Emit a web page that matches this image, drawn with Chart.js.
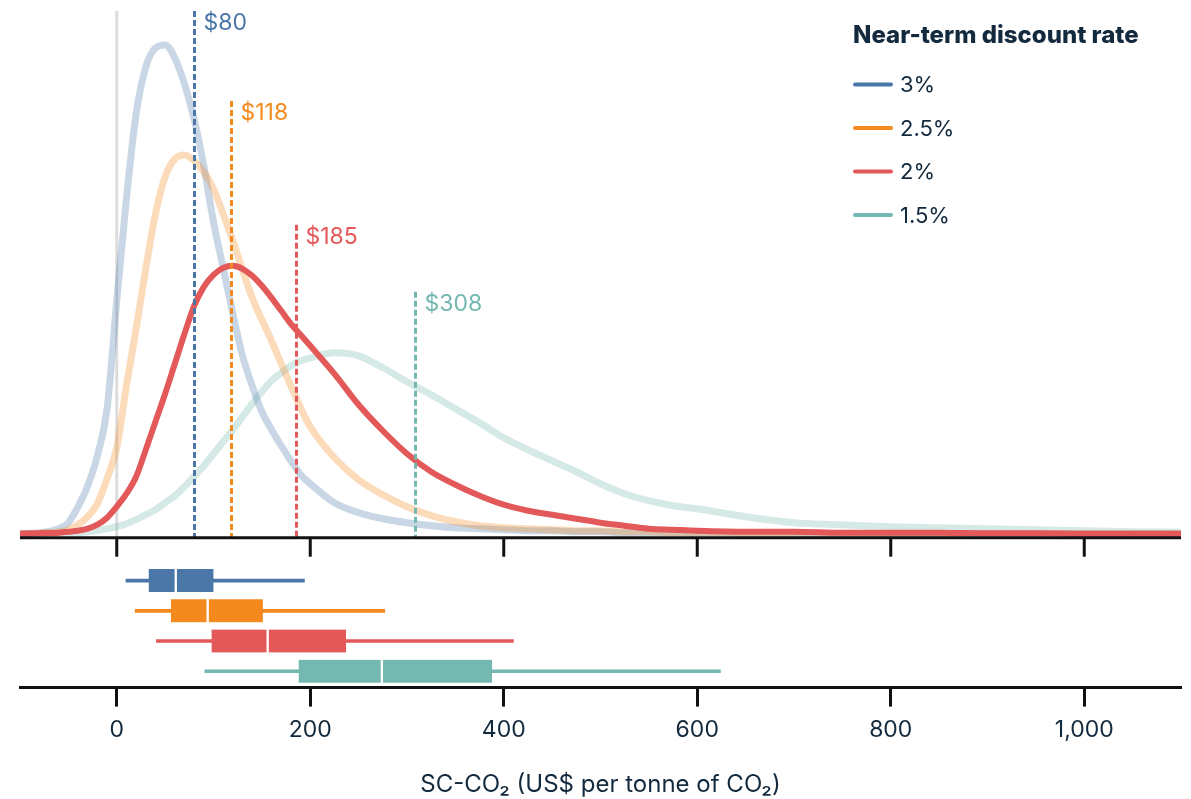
<!DOCTYPE html>
<html>
<head>
<meta charset="utf-8">
<script src="https://cdn.jsdelivr.net/npm/chart.js@4.4.1/dist/chart.umd.min.js"></script>
<style>
  html, body { margin: 0; padding: 0; background: #ffffff; }
  #wrap { width: 1191px; height: 799px; position: relative; }
</style>
</head>
<body>
<div id="wrap"><canvas id="c" width="1191" height="799"></canvas></div>
<script>
// SC-CO2 distributions by near-term discount rate (relative density on a shared x grid)
const X = [-100,-80,-60,-50,-40,-30,-20,-10,
  0,10,20,30,40,50,60,70,80,90,100,110,120,130,140,150,160,170,180,190,200,
  225,250,275,300,325,350,375,400,425,450,475,500,525,550,575,600,
  650,700,750,800,850,900,950,1000,1050,1100];

const dens3 = [0,1,5,11,27,48,78,125,
  233,335,420,467,486,489,476,450,415,368,312,266,220,178,148,122,104,88,73,59,50,
  31,21,15,11,8,6,5,4,3,3,2,2,1,1,1,1,
  0.5,0,0,0,0,0,0,0,0,0];

const dens25 = [0,0.5,2,4,9,17,30,55,
  86,148,205,265,320,357,375,379,373,362,345,320,293,264,236,214,193,170,148,126,107,
  76,54,39,27,18,12,8,6,5,4,3,3,2,2,1,1,
  1,0.5,0,0,0,0,0,0,0,0];

const dens2 = [0,0.5,1,2,3,5,9,16,
  27,40,57,84,112,140,170,200,228,247,259,266,268,265,258,248,236,223,210,199,188,
  160,129,103,80,62,49,38,29,23,19,15,11,8,5,4,3,
  2,2,1,1,1,0.5,0.5,0,0,0];

const dens15 = [0,0.3,0.5,1,1,2,3,5,
  7,10,14,19,24,31,38,47,57,68,80,92,104,117,130,142,153,161,168,173,176,
  181,178,166,152,139,125,111,96,84,73,62,50,40,33,28,25,
  17,11,9,7,6,5,4,3,2,1.5];

// Series names and means (US$ per tonne)
const rates = ['3%', '2.5%', '2%', '1.5%'];
const means = [80, 118, 185, 308];

// Box-plot summaries per rate
const boxMin = [9.5, 19, 41, 91];
const boxQ1  = [33, 56, 98, 188];
const boxMed = [61, 94, 156, 274];
const boxQ3  = [100, 151, 237, 388];
const boxMax = [194, 277, 410, 624];

const xTicks = [0, 200, 400, 600, 800, 1000];

// ---- styling ----
const FONT = 'Inter, "Noto Sans", Roboto, sans-serif';
const INK = '#13293d';
const solid = ['#4a77a8', '#f4891e', '#e35858', '#74b8b1'];
const pale  = ['rgba(74,119,168,0.30)', 'rgba(244,137,30,0.30)', '#e35858', 'rgba(116,184,177,0.30)'];
const curveWidth = [7, 7, 6, 7];
const curveOrder = [2, 1, 0, 3];
// height (in density units) where each mean marker line starts
const markerTop = [523, 433, 309, 242];

const curves = [dens3, dens25, dens2, dens15];

const lineSets = curves.map((arr, i) => ({
  type: 'line',
  label: rates[i],
  data: X.map((x, k) => ({ x: x, y: arr[k] })),
  borderColor: pale[i],
  borderWidth: curveWidth[i],
  pointRadius: 0,
  fill: false,
  cubicInterpolationMode: 'monotone',
  borderCapStyle: 'round',
  borderJoinStyle: 'round',
  order: curveOrder[i],
  xAxisID: 'x',
  yAxisID: 'y'
}));

const rows = rates.map((_, i) => i + 1);

const whiskerSet = {
  type: 'bar', indexAxis: 'y', xAxisID: 'x', yAxisID: 'yb',
  data: rows.map((r, i) => ({ y: r, x: [boxMin[i], boxMax[i]] })),
  backgroundColor: solid, barThickness: 3, grouped: false, order: 12,
  borderSkipped: false
};
const lowerBoxSet = {
  type: 'bar', indexAxis: 'y', xAxisID: 'x', yAxisID: 'yb',
  data: rows.map((r, i) => ({ y: r, x: [boxQ1[i], boxMed[i]] })),
  backgroundColor: solid, barThickness: 23, grouped: false, order: 11,
  borderColor: 'rgba(255,255,255,0.95)', borderWidth: { right: 1.5, left: 0, top: 0, bottom: 0 },
  borderSkipped: false
};
const upperBoxSet = {
  type: 'bar', indexAxis: 'y', xAxisID: 'x', yAxisID: 'yb',
  data: rows.map((r, i) => ({ y: r, x: [boxMed[i], boxQ3[i]] })),
  backgroundColor: solid, barThickness: 23, grouped: false, order: 10,
  borderColor: 'rgba(255,255,255,0.95)', borderWidth: { left: 1.5, right: 0, top: 0, bottom: 0 },
  borderSkipped: false
};

// Draws the zero reference line, mean markers, the upper axis and the legend
const overlays = {
  id: 'overlays',
  beforeDatasetsDraw(chart) {
    const { ctx, scales: { x, y } } = chart;
    ctx.save();
    ctx.strokeStyle = '#dcdcdc';
    ctx.lineWidth = 3;
    ctx.beginPath();
    ctx.moveTo(x.getPixelForValue(0), y.getPixelForValue(523));
    ctx.lineTo(x.getPixelForValue(0), y.getPixelForValue(0) + 4);
    ctx.stroke();
    ctx.restore();
  },
  afterDatasetsDraw(chart) {
    const { ctx, chartArea, scales: { x, y } } = chart;
    const base = y.getPixelForValue(0) + 4;
    ctx.save();

    // mean markers
    means.forEach((m, i) => {
      const px = Math.round(x.getPixelForValue(m)) + 0.5;
      const top = y.getPixelForValue(markerTop[i]);
      ctx.setLineDash([6, 3]);
      ctx.strokeStyle = solid[i];
      ctx.lineWidth = 3;
      ctx.beginPath();
      ctx.moveTo(px, top);
      ctx.lineTo(px, base);
      ctx.stroke();
      ctx.setLineDash([]);
      ctx.fillStyle = solid[i];
      ctx.font = '400 23px ' + FONT;
      ctx.textAlign = 'left';
      ctx.textBaseline = 'middle';
      ctx.fillText('$' + m, px + 9, top + 12);
    });

    // upper axis line with ticks
    ctx.strokeStyle = '#111111';
    ctx.lineWidth = 3;
    ctx.beginPath();
    ctx.moveTo(chartArea.left, base);
    ctx.lineTo(chartArea.right, base);
    ctx.stroke();
    x.ticks.forEach(t => {
      const px = x.getPixelForValue(t.value);
      ctx.beginPath();
      ctx.moveTo(px, base);
      ctx.lineTo(px, base + 19);
      ctx.stroke();
    });

    // legend
    const lx = 853;
    ctx.fillStyle = INK;
    ctx.font = '800 24px ' + FONT;
    ctx.textAlign = 'left';
    ctx.textBaseline = 'middle';
    ctx.fillText('Near-term discount rate', lx, 36);
    rates.forEach((r, i) => {
      const ly = 84.5 + i * 43.5;
      ctx.strokeStyle = solid[i];
      ctx.lineWidth = 4;
      ctx.lineCap = 'round';
      ctx.beginPath();
      ctx.moveTo(lx + 2, ly);
      ctx.lineTo(lx + 38, ly);
      ctx.stroke();
      ctx.fillStyle = INK;
      ctx.font = '400 22px ' + FONT;
      ctx.fillText(r, lx + 47, ly + 1);
    });
    ctx.restore();
  }
};

new Chart(document.getElementById('c'), {
  type: 'line',
  data: { datasets: [...lineSets, whiskerSet, lowerBoxSet, upperBoxSet] },
  options: {
    responsive: false,
    animation: false,
    events: [],
    layout: { padding: { left: 20, right: 10, top: 10, bottom: 0 } },
    plugins: { legend: { display: false }, tooltip: { enabled: false } },
    scales: {
      x: {
        type: 'linear',
        position: 'bottom',
        min: -100,
        max: 1100,
        afterBuildTicks: s => { s.ticks = xTicks.map(v => ({ value: v })); },
        ticks: {
          font: { family: FONT, size: 23 },
          color: INK,
          padding: 10,
          maxRotation: 0,
          autoSkip: false,
          callback: v => v.toLocaleString('en-US')
        },
        grid: {
          display: true,
          drawOnChartArea: false,
          drawTicks: true,
          tickLength: 19,
          tickWidth: 3,
          tickColor: '#111111'
        },
        border: { display: true, color: '#111111', width: 3 },
        title: {
          display: true,
          text: 'SC-CO\u2082 (US$ per tonne of CO\u2082)',
          font: { family: FONT, size: 24 },
          color: INK,
          padding: { top: 16, bottom: 0 }
        }
      },
      y: { type: 'linear', display: false, min: -154, max: 524 },
      yb: {
        type: 'linear', display: false, min: -17.87, max: 4.54, reverse: true,
        offset: false, grid: { offset: false }
      }
    }
  },
  plugins: [overlays]
});
</script>
</body>
</html>
